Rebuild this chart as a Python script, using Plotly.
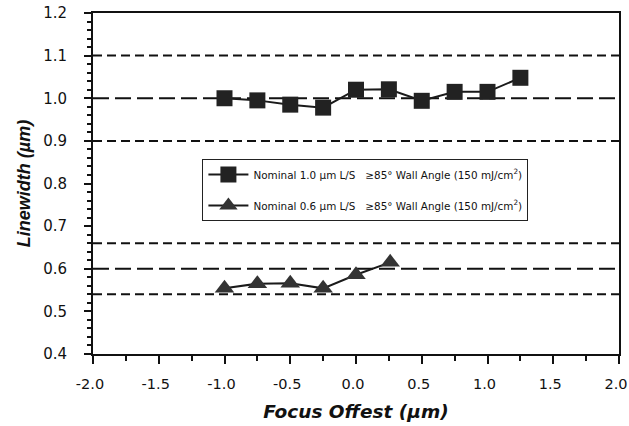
import plotly.graph_objects as go

focus_sq = [-1.0, -0.75, -0.5, -0.25, 0.0, 0.25, 0.5, 0.75, 1.0, 1.25]
lw_1um = [1.000, 0.995, 0.985, 0.978, 1.020, 1.021, 0.994, 1.015, 1.015, 1.048]
focus_tri = [-1.0, -0.75, -0.5, -0.25, 0.0, 0.26]
lw_06um = [0.554, 0.565, 0.566, 0.554, 0.586, 0.615]

ref_short = [1.1, 0.9, 0.66, 0.54]
ref_long = [1.0, 0.6]

x_ticks = [-2.0, -1.5, -1.0, -0.5, 0.0, 0.5, 1.0, 1.5, 2.0]
x_tick_text = ["-2.0", "-1.5", "-1.0", "-0.5", "0.0", "0.5", "1.0", "1.5", "2.0"]
y_ticks = [0.4, 0.5, 0.6, 0.7, 0.8, 0.9, 1.0, 1.1, 1.2]
y_tick_text = ["0.4", "0.5", "0.6", "0.7", "0.8", "0.9", "1.0", "1.1", "1.2"]

name1 = "Nominal 1.0 µm L/S   ≥85° Wall Angle (150 mJ/cm<sup>2</sup>)"
name2 = "Nominal 0.6 µm L/S   ≥85° Wall Angle (150 mJ/cm<sup>2</sup>)"

fig = go.Figure()
fig.add_trace(go.Scatter(x=focus_sq, y=lw_1um, mode="lines+markers", name=name1,
                         legendgroup="a",
                         line=dict(color="#1a1a1a", width=2),
                         marker=dict(symbol="square", size=16, color="#222222")))
fig.add_trace(go.Scatter(x=focus_tri, y=lw_06um, mode="lines+markers", name=name2,
                         legendgroup="b",
                         line=dict(color="#1a1a1a", width=2),
                         marker=dict(symbol="triangle-up", size=17, color="#333333")))

for v in ref_short:
    fig.add_shape(type="line", xref="paper", x0=0, x1=1, yref="y", y0=v, y1=v,
                  line=dict(color="#111111", width=2, dash="9px,5px"), layer="below")
for v in ref_long:
    fig.add_shape(type="line", xref="paper", x0=0, x1=1, yref="y", y0=v, y1=v,
                  line=dict(color="#111111", width=2, dash="16px,6px"), layer="below")

tick_family = "DejaVu Sans, sans-serif"
fig.update_layout(
    width=629, height=426,
    margin=dict(l=93, r=10, t=13, b=72, autoexpand=False),
    paper_bgcolor="white", plot_bgcolor="white",
    font=dict(family=tick_family, color="#111111"),
    showlegend=True,
    legend=dict(x=0.208, y=0.572, xanchor="left", yanchor="top",
                bgcolor="white", bordercolor="#222222", borderwidth=1,
                font=dict(size=10.4, family=tick_family), tracegroupgap=12,
                itemwidth=40),
    xaxis=dict(range=[-2.0, 2.0], tickmode="array", automargin=False,
               tickvals=x_ticks, ticktext=x_tick_text,
               ticks="outside", ticklen=8, tickwidth=2, tickcolor="#111111",
               minor=dict(dtick=0.25, ticks="outside", ticklen=5, tickwidth=2, tickcolor="#111111"),
               showgrid=False, zeroline=False,
               showline=True, linecolor="#111111", linewidth=2, mirror=True,
               tickfont=dict(size=14.5), ticklabelstandoff=8, ticklabelshift=-3,
               title=dict(text="<b><i>Focus Offest (µm)</i></b>",
                          font=dict(size=18.5, family="DejaVu Sans, sans-serif"), standoff=14)),
    yaxis=dict(range=[0.4, 1.2], tickmode="array", automargin=False,
               tickvals=y_ticks, ticktext=y_tick_text,
               ticks="outside", ticklen=7, tickwidth=2, tickcolor="#111111",
               minor=dict(dtick=0.02, ticks="outside", ticklen=4, tickwidth=2, tickcolor="#111111"),
               showgrid=False, zeroline=False,
               showline=True, linecolor="#111111", linewidth=2, mirror=True,
               tickfont=dict(size=15), ticklabelstandoff=14,
               title=dict(text="<b><i>Linewidth (µm)</i></b>",
                          font=dict(size=18, family="Liberation Sans, Arial, sans-serif"), standoff=8)),
)

fig.write_html("out.html", config={"displayModeBar": False},
               post_script="document.body.style.margin='0';document.body.style.overflow='hidden';")
